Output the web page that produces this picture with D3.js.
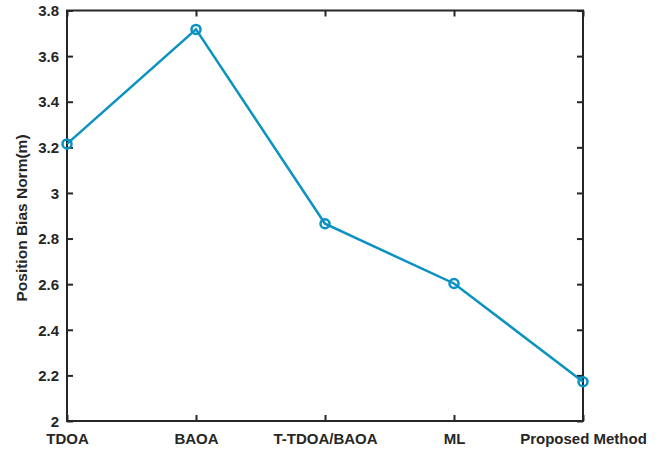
<!DOCTYPE html>
<html><head><meta charset="utf-8">
<script src="https://cdn.jsdelivr.net/npm/d3@7"></script>
<style>body{margin:0;background:#fff;}svg{display:block;font-family:"Liberation Sans",Arial,sans-serif;}</style>
</head><body><svg id="c" width="667" height="452"></svg>
<script>
const categories = ["TDOA","BAOA","T-TDOA/BAOA","ML","Proposed Method"];
const values = [3.215, 3.717, 2.865, 2.603, 2.172];
const yTicks = [2,2.2,2.4,2.6,2.8,3,3.2,3.4,3.6,3.8];
const yLabel = "Position Bias Norm(m)";

const svg = d3.select("#c");
const L=67,R=583,T=10.5,B=421;
const x = d3.scalePoint().domain(categories).range([L,R]);
const y = d3.scaleLinear().domain([2,3.8]).range([B,T]);
const ax="#262626", col="#0a92c2", tl=6;
const fmt = d=>String(+d.toFixed(1));

svg.append("rect").attr("x",L).attr("y",T).attr("width",R-L).attr("height",B-T)
  .attr("fill","none").attr("stroke",ax).attr("stroke-width",2);

const yg = svg.append("g").attr("transform",`translate(${L},0)`)
  .call(d3.axisLeft(y).tickValues(yTicks).tickSize(-tl).tickPadding(8).tickFormat(fmt));
const yr = svg.append("g").attr("transform",`translate(${R},0)`)
  .call(d3.axisRight(y).tickValues(yTicks).tickSize(-tl).tickFormat(""));
const xg = svg.append("g").attr("transform",`translate(0,${B})`)
  .call(d3.axisBottom(x).tickSize(-tl).tickPadding(12));
const xt = svg.append("g").attr("transform",`translate(0,${T})`)
  .call(d3.axisTop(x).tickSize(-tl).tickFormat(""));
[yg,yr,xg,xt].forEach(g=>{
  g.select(".domain").remove();
  g.selectAll(".tick line").attr("stroke",ax).attr("stroke-width",2);
  g.selectAll("text").attr("fill",ax).style("font-size","15px").style("font-weight","bold").style("font-family","'Liberation Sans',Arial,sans-serif");
});
yg.selectAll("text").attr("dy","0.35em");
xg.selectAll("text").attr("dy","0.71em");

svg.append("text").attr("transform",`translate(27,218) rotate(-90)`)
  .attr("text-anchor","middle").attr("fill",ax).style("font-size","15.5px").style("font-weight","bold")
  .text(yLabel);

const line = d3.line().x((d,i)=>x(categories[i])).y(d=>y(d));
svg.append("path").datum(values).attr("d",line).attr("fill","none").attr("stroke",col).attr("stroke-width",2.5);
svg.selectAll("circle.m").data(values).join("circle").attr("class","m")
  .attr("cx",(d,i)=>x(categories[i])).attr("cy",d=>y(d)).attr("r",4.5)
  .attr("fill","none").attr("stroke",col).attr("stroke-width",2.5);
</script></body></html>
